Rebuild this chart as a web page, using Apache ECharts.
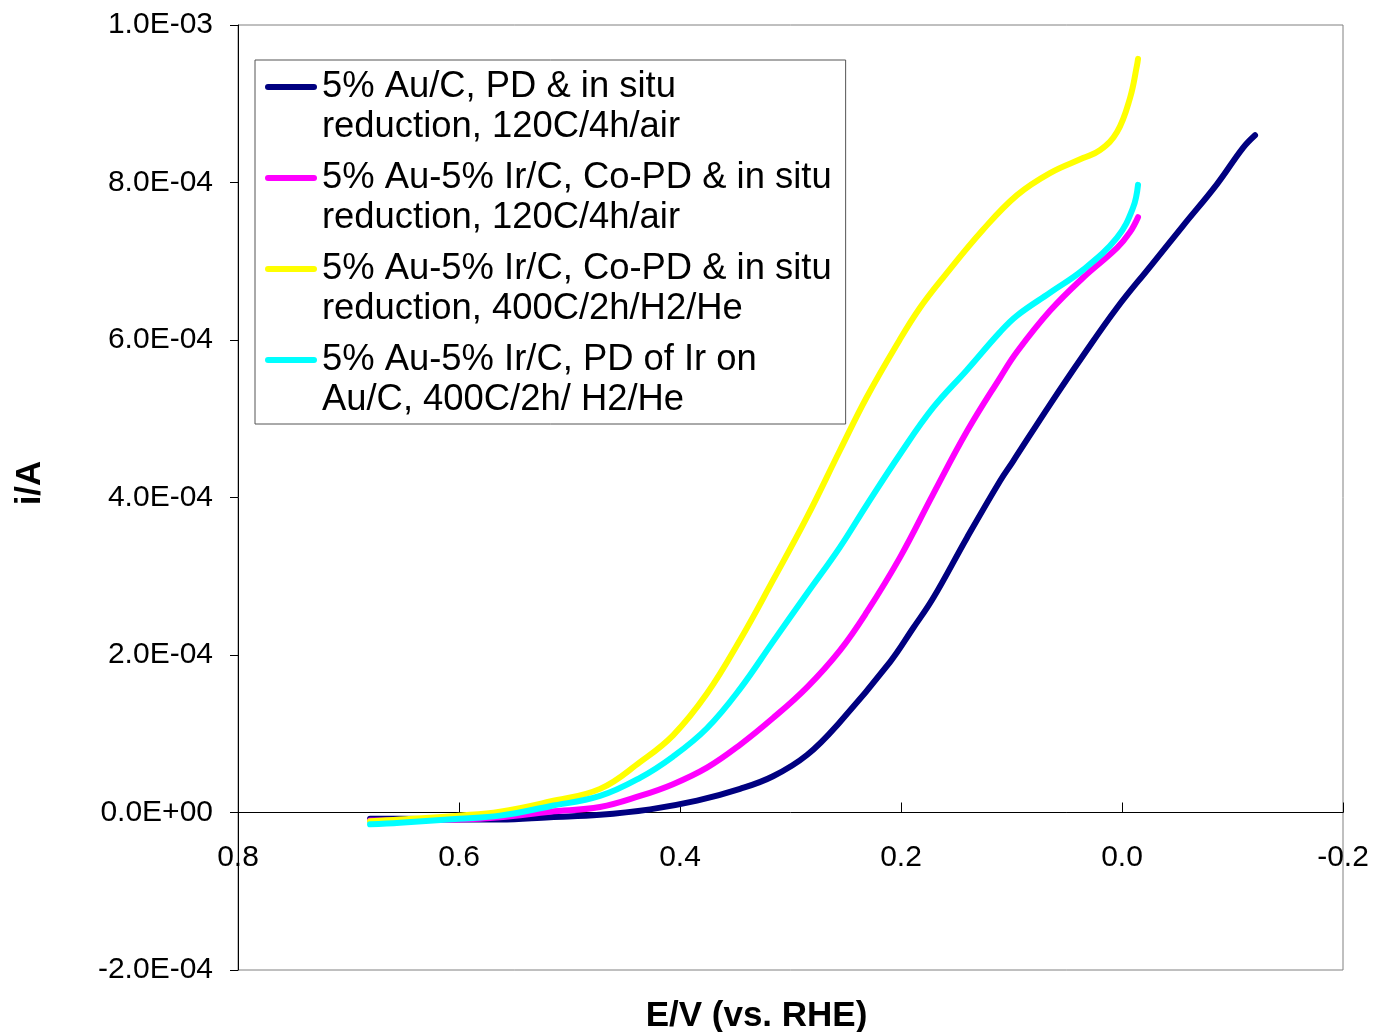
<!DOCTYPE html>
<html>
<head>
<meta charset="utf-8">
<script src="https://cdn.jsdelivr.net/npm/echarts@6/dist/echarts.min.js"></script>
<style>
  html, body { margin: 0; padding: 0; background: #fff; }
  #chart { width: 1374px; height: 1032px; }
</style>
</head>
<body>
<div id="chart"></div>
<script>
// Potential E / V (vs. RHE) and current i in units of 1e-4 A
const seriesNames = [
  '5% Au/C, PD & in situ\nreduction, 120C/4h/air',
  '5% Au-5% Ir/C, Co-PD & in situ\nreduction, 120C/4h/air',
  '5% Au-5% Ir/C, Co-PD & in situ\nreduction, 400C/2h/H2/He',
  '5% Au-5% Ir/C, PD of Ir on\nAu/C, 400C/2h/ H2/He'
];
const seriesColors = ['#000080', '#FF00FF', '#FFFF00', '#00FFFF'];

const E_AuC = [0.6805,0.6534,0.600,0.5629,0.5176,0.4724,0.4271,0.3846,0.3457,0.3158,0.2851,0.2552,0.2100,0.1891,0.1710,0.1403,0.1104,0.0986,0.0652,0.0353,0.0045,-0.0253,-0.0552,-0.0860,-0.1095,-0.1204];
const I_AuC = [-0.08,-0.08,-0.09,-0.09,-0.06,-0.03,0.04,0.15,0.30,0.46,0.73,1.15,1.91,2.34,2.72,3.49,4.21,4.46,5.18,5.80,6.41,6.93,7.45,7.98,8.44,8.60];

const E_AuIr_CoPD_120 = [0.6805,0.6534,0.600,0.5629,0.5176,0.4724,0.4362,0.4063,0.3756,0.3457,0.3158,0.2851,0.2552,0.2308,0.2009,0.1710,0.1403,0.1104,0.0950,0.0652,0.0353,0.0045,-0.0072,-0.0145];
const I_AuIr_CoPD_120 = [-0.10,-0.10,-0.09,-0.06,0.01,0.07,0.21,0.36,0.57,0.86,1.20,1.59,2.06,2.55,3.24,4.04,4.84,5.52,5.85,6.37,6.79,7.17,7.37,7.56];

const E_AuIr_CoPD_400 = [0.6805,0.6534,0.600,0.5629,0.5176,0.4724,0.4362,0.4063,0.3756,0.3457,0.3158,0.2851,0.2552,0.2308,0.2009,0.1828,0.1620,0.1258,0.0950,0.0652,0.0353,0.0199,0.0045,-0.0072,-0.0136,-0.0145];
const I_AuIr_CoPD_400 = [-0.11,-0.09,-0.04,0.01,0.14,0.30,0.64,0.98,1.51,2.19,2.95,3.75,4.60,5.28,6.01,6.41,6.79,7.40,7.84,8.12,8.31,8.41,8.64,9.07,9.49,9.57];

const E_IrOnAu_400 = [0.6805,0.6534,0.600,0.5629,0.5176,0.4724,0.4362,0.4063,0.3756,0.3457,0.3158,0.2851,0.2552,0.2308,0.2009,0.1710,0.1403,0.1104,0.0950,0.0652,0.0353,0.0045,-0.0100,-0.0145];
const I_IrOnAu_400 = [-0.15,-0.13,-0.08,-0.04,0.08,0.21,0.44,0.71,1.07,1.57,2.17,2.78,3.37,3.91,4.55,5.14,5.62,6.10,6.31,6.60,6.89,7.30,7.68,7.97];

const xTickMin = -0.2, xTickMax = 0.8, xTickStep = 0.2;
const yTickMin = -2, yTickMax = 10, yTickStep = 2; // units of 1e-4 A

const FONT = "'Liberation Sans', Arial, Helvetica, sans-serif";

function pairs(xs, ys) { return xs.map((x, k) => [x, ys[k]]); }
function yLabel(v) {
  if (Math.abs(v) < 1e-9) return '0.0E+00';
  if (Math.abs(v) >= 10 - 1e-9) return (v / 10).toFixed(1) + 'E-03';
  return v.toFixed(1) + 'E-04';
}
function xLabel(v) { return Math.abs(v) < 1e-9 ? '0.0' : v.toFixed(1); }

const dataSets = [
  pairs(E_AuC, I_AuC),
  pairs(E_AuIr_CoPD_120, I_AuIr_CoPD_120),
  pairs(E_AuIr_CoPD_400, I_AuIr_CoPD_400),
  pairs(E_IrOnAu_400, I_IrOnAu_400)
];

// grid geometry: x axis is drawn through i = 0
const gridTop = 25, gridBottom = 62, chartH = 1032;
const plotH = chartH - gridTop - gridBottom;
const zeroOffset = -plotH * (0 - yTickMin) / (yTickMax - yTickMin);

const chart = echarts.init(document.getElementById('chart'), null, { renderer: 'canvas' });
chart.setOption({
  backgroundColor: '#ffffff',
  animation: false,
  textStyle: { fontFamily: FONT },
  grid: {
    left: 238, right: 31, top: gridTop, bottom: gridBottom,
    containLabel: false,
    outerBoundsMode: 'none',
    show: true, borderColor: '#808080', borderWidth: 1, backgroundColor: 'transparent'
  },
  legend: {
    show: true,
    orient: 'vertical',
    left: 255, top: 60,
    padding: [7, 14, 4, 10],
    itemWidth: 52, itemHeight: 80, itemGap: 11,
    borderColor: '#555555', borderWidth: 1,
    backgroundColor: '#ffffff',
    selectedMode: false,
    icon: 'path://M0,0 M52,80 M3,17 L49,17 A3,3,0,0,1,49,23 L3,23 A3,3,0,0,1,3,17 Z',
    textStyle: { fontFamily: FONT, fontSize: 36.4, lineHeight: 40, color: '#000' },
    data: seriesNames
  },
  xAxis: {
    type: 'value',
    inverse: true,
    position: 'bottom',
    offset: zeroOffset,
    min: xTickMin, max: xTickMax, interval: xTickStep,
    name: 'E/V (vs. RHE)',
    nameLocation: 'middle',
    nameGap: 186,
    nameMoveOverlap: false,
    nameTextStyle: { fontFamily: FONT, fontSize: 35, fontWeight: 'bold', color: '#000', padding: [0, 68, 0, 0] },
    axisLine: { show: true, onZero: false, lineStyle: { color: '#000', width: 1 } },
    axisTick: { show: true, inside: true, length: 10, lineStyle: { color: '#000', width: 1 } },
    axisLabel: { show: true, margin: 30, fontFamily: FONT, fontSize: 30, color: '#000', formatter: xLabel, showMinLabel: true, showMaxLabel: true },
    splitLine: { show: false }
  },
  yAxis: {
    type: 'value',
    min: yTickMin, max: yTickMax, interval: yTickStep,
    name: 'i/A',
    nameLocation: 'middle',
    nameGap: 190,
    nameMoveOverlap: false,
    nameRotate: 90,
    nameTextStyle: { fontFamily: FONT, fontSize: 35, fontWeight: 'bold', color: '#000', padding: [0, 0, 0, 29] },
    axisLine: { show: true, onZero: false, lineStyle: { color: '#000', width: 1 } },
    axisTick: { show: true, inside: false, length: 8, lineStyle: { color: '#000', width: 1 } },
    axisLabel: { show: true, margin: 25, fontFamily: FONT, fontSize: 30, color: '#000', formatter: yLabel, showMinLabel: true, showMaxLabel: true },
    splitLine: { show: false }
  },
  series: seriesNames.map((name, k) => ({
    name: name,
    type: 'line',
    data: dataSets[k],
    symbol: 'none',
    showSymbol: false,
    smooth: 0.4,
    clip: true,
    z: 2 + k,
    itemStyle: { color: seriesColors[k] },
    lineStyle: { color: seriesColors[k], width: 6, cap: 'round', join: 'round' },
    emphasis: { disabled: true }
  }))
});
</script>
</body>
</html>
